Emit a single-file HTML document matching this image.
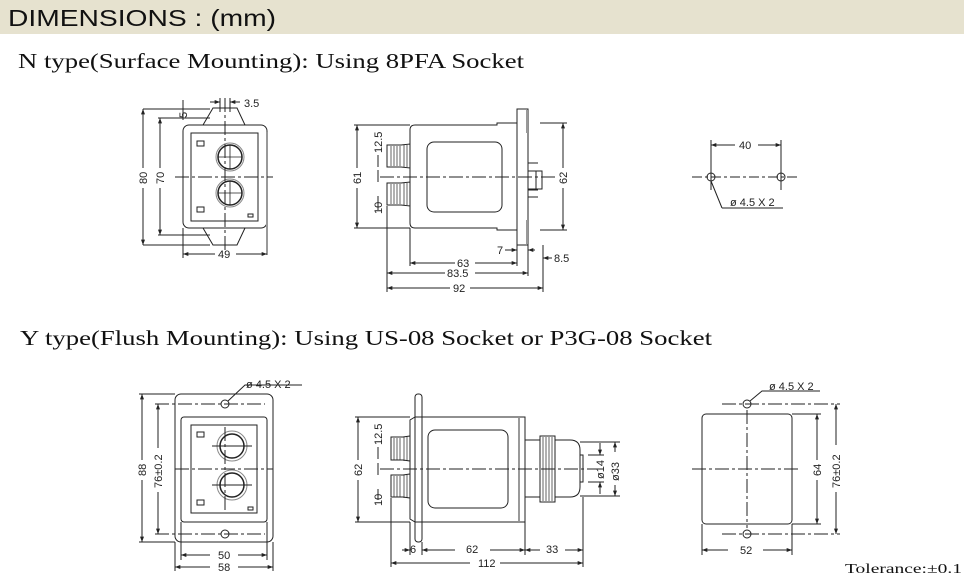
<!DOCTYPE html>
<html><head><meta charset="utf-8"><style>
html,body{margin:0;padding:0;background:#fff;}
svg{display:block;}
.t{font-family:"Liberation Sans",sans-serif;font-size:11px;fill:#222;}
.s{font-family:"Liberation Serif",serif;fill:#111;}
</style></head><body>
<svg width="964" height="579" viewBox="0 0 964 579" xmlns="http://www.w3.org/2000/svg">
<defs>
<marker id="a" viewBox="0 0 8 6" refX="8" refY="3" markerWidth="6" markerHeight="4" orient="auto-start-reverse"><path d="M0,0L8,3L0,6z" fill="#222"/></marker>
</defs>
<rect x="0" y="0" width="964" height="34" fill="#e6e2cf"/>
<text x="8" y="26" font-family="Liberation Sans Narrow,Liberation Sans,sans-serif" font-size="23" fill="#111" textLength="268" lengthAdjust="spacingAndGlyphs">DIMENSIONS : (mm)</text>
<text class="s" x="18" y="68" font-size="21" textLength="506" lengthAdjust="spacingAndGlyphs">N type(Surface Mounting): Using 8PFA Socket</text>
<text class="s" x="20" y="345" font-size="21" textLength="692" lengthAdjust="spacingAndGlyphs">Y type(Flush Mounting): Using US-08 Socket or P3G-08 Socket</text>
<text class="s" x="845" y="573" font-size="14" textLength="117" lengthAdjust="spacingAndGlyphs">Tolerance:±0.1</text>

<g stroke="#222" fill="none" stroke-width="1">
<!-- N front -->
<rect x="183" y="125" width="84" height="103" rx="6"/>
<rect x="191" y="133" width="67" height="88"/>
<line x1="267" y1="132" x2="267" y2="255" stroke="#999" stroke-width="2"/>
<circle cx="230" cy="157" r="14" stroke="#888"/><circle cx="230" cy="157" r="12" stroke-width="1.5"/>
<circle cx="230" cy="193" r="14" stroke="#888"/><circle cx="230" cy="193" r="12" stroke-width="1.5"/>
<path d="M218,157h24M218,193h24M230,145v24M230,181v24" stroke-width="0.8"/>
<rect x="197" y="141" width="7" height="5"/><rect x="197" y="207" width="7" height="5"/><rect x="248" y="214" width="5" height="3"/>
<path d="M203,125 L213,108 L237,108 L245,125 M203,228 L213,245 L237,245 L245,228"/>
<line x1="175" y1="177" x2="273" y2="177" stroke-dasharray="14,3,3,3"/>
<line x1="225" y1="98" x2="225" y2="250" stroke-dasharray="14,3,3,3"/>
<line x1="143" y1="109" x2="210" y2="109"/><line x1="143" y1="245" x2="210" y2="245"/>
<line x1="143" y1="109" x2="143" y2="168" marker-start="url(#a)"/><line x1="143" y1="188" x2="143" y2="245" marker-end="url(#a)"/>
<line x1="158" y1="118" x2="210" y2="118"/><line x1="158" y1="235" x2="210" y2="235"/>
<line x1="160" y1="118" x2="160" y2="168" marker-start="url(#a)"/><line x1="160" y1="188" x2="160" y2="235" marker-end="url(#a)"/>
<line x1="183" y1="228" x2="183" y2="258"/>
<line x1="183" y1="254" x2="215" y2="254" marker-start="url(#a)"/><line x1="236" y1="254" x2="267" y2="254" marker-end="url(#a)"/>
<line x1="183" y1="100" x2="183" y2="120"/><line x1="220" y1="98" x2="220" y2="112"/><line x1="230" y1="98" x2="230" y2="112"/>
<line x1="210" y1="102" x2="220" y2="102" marker-end="url(#a)"/><line x1="240" y1="102" x2="230" y2="102" marker-end="url(#a)"/>

<!-- N side -->
<path d="M410,130 Q410,125 415,125 L497,125 L497,123 L517,123 L517,230 L497,230 L497,228 L415,228 Q410,228 410,223 Z"/>
<rect x="427" y="142" width="75" height="70" rx="7"/>
<rect x="517" y="109" width="11" height="136"/>
<line x1="527" y1="110" x2="527" y2="133" stroke="#999" stroke-width="2"/><line x1="527" y1="220" x2="527" y2="244" stroke="#999" stroke-width="2"/>
<path d="M528,163 h10 M528,171 h14 v18 h-14 M536,171 v18 M528,190 h10 M528,197 h10"/>
<path d="M387,145 L401,145 L410,144 L410,168 L401,167 L387,167 Z M387,183 L401,183 L410,182 L410,206 L401,205 L387,205 Z"/>
<path d="M391,146v20M394,146v20M397,146v20M400,146v20M404,145v22M407,145v22M391,184v20M394,184v20M397,184v20M400,184v20M404,183v22M407,183v22" stroke-width="0.7"/>
<line x1="380" y1="177" x2="555" y2="177" stroke-dasharray="14,3,3,3"/>
<line x1="354" y1="125" x2="410" y2="125"/><line x1="354" y1="228" x2="410" y2="228"/>
<line x1="357" y1="125" x2="357" y2="168" marker-start="url(#a)"/><line x1="357" y1="188" x2="357" y2="228" marker-end="url(#a)"/>
<line x1="540" y1="123" x2="567" y2="123"/><line x1="540" y1="230" x2="567" y2="230"/>
<line x1="563" y1="123" x2="563" y2="168" marker-start="url(#a)"/><line x1="563" y1="188" x2="563" y2="230" marker-end="url(#a)"/>
<line x1="378" y1="155" x2="378" y2="167"/><line x1="378" y1="170" x2="378" y2="182"/><line x1="378" y1="196" x2="378" y2="210"/>
<line x1="410" y1="228" x2="410" y2="266"/><line x1="387" y1="206" x2="387" y2="292"/><line x1="528" y1="245" x2="528" y2="276"/><line x1="543" y1="245" x2="543" y2="292"/><line x1="517" y1="245" x2="517" y2="266"/>
<line x1="410" y1="263" x2="455" y2="263" marker-start="url(#a)"/><line x1="475" y1="263" x2="517" y2="263" marker-end="url(#a)"/>
<line x1="387" y1="273" x2="445" y2="273" marker-start="url(#a)"/><line x1="475" y1="273" x2="528" y2="273" marker-end="url(#a)"/>
<line x1="387" y1="288" x2="450" y2="288" marker-start="url(#a)"/><line x1="470" y1="288" x2="543" y2="288" marker-end="url(#a)"/>
<line x1="505" y1="250" x2="517" y2="250" marker-end="url(#a)"/><line x1="535" y1="250" x2="528" y2="250" marker-end="url(#a)"/>
<line x1="552" y1="258" x2="543" y2="258" marker-end="url(#a)"/>

<!-- N holes -->
<circle cx="711" cy="177" r="4"/><circle cx="781" cy="177" r="4"/>
<line x1="692" y1="177" x2="800" y2="177" stroke-dasharray="10,3,3,3"/>
<line x1="711" y1="140" x2="711" y2="190"/><line x1="781" y1="140" x2="781" y2="190"/>
<line x1="711" y1="145" x2="735" y2="145" marker-start="url(#a)"/><line x1="758" y1="145" x2="781" y2="145" marker-end="url(#a)"/>
<path d="M722,208 L711,181 M722,208 H783"/>

<!-- Y front -->
<rect x="175" y="394" width="98" height="148" rx="6"/>
<rect x="181" y="417" width="86" height="105" rx="3"/>
<rect x="191" y="425" width="66" height="88"/>
<circle cx="232" cy="446" r="15" stroke="#888"/><circle cx="232" cy="446" r="12" stroke-width="1.5"/>
<circle cx="232" cy="485" r="15" stroke="#888"/><circle cx="232" cy="485" r="12" stroke-width="1.5"/>
<rect x="197" y="432" width="7" height="5"/><rect x="197" y="500" width="7" height="5"/><rect x="248" y="507" width="5" height="3"/>
<circle cx="225" cy="404" r="4"/><circle cx="225" cy="534" r="4"/>
<line x1="175" y1="469" x2="273" y2="469" stroke-dasharray="14,3,3,3"/>
<line x1="155" y1="404" x2="265" y2="404" stroke-dasharray="14,3,3,3"/><line x1="155" y1="534" x2="265" y2="534" stroke-dasharray="14,3,3,3"/>
<line x1="225" y1="427" x2="225" y2="513" stroke-dasharray="14,3,3,3"/>
<line x1="212" y1="446" x2="252" y2="446"/><line x1="212" y1="485" x2="252" y2="485"/>
<line x1="139" y1="394" x2="175" y2="394"/><line x1="139" y1="542" x2="175" y2="542"/>
<line x1="142" y1="394" x2="142" y2="460" marker-start="url(#a)"/><line x1="142" y1="480" x2="142" y2="542" marker-end="url(#a)"/>
<line x1="158" y1="404" x2="158" y2="448" marker-start="url(#a)"/><line x1="158" y1="492" x2="158" y2="534" marker-end="url(#a)"/>
<line x1="181" y1="522" x2="181" y2="560"/><line x1="267" y1="522" x2="267" y2="560"/><line x1="175" y1="542" x2="175" y2="571"/><line x1="273" y1="542" x2="273" y2="571"/>
<line x1="181" y1="555" x2="210" y2="555" marker-start="url(#a)"/><line x1="238" y1="555" x2="267" y2="555" marker-end="url(#a)"/>
<line x1="175" y1="567" x2="210" y2="567" marker-start="url(#a)"/><line x1="238" y1="567" x2="273" y2="567" marker-end="url(#a)"/>
<path d="M228,401 L245,385 H302"/>

<!-- Y side -->
<path d="M410,420 L415,417 L525,417 L525,522 L415,522 L410,519 Z"/>
<rect x="415" y="394" width="7" height="148" rx="3"/>
<rect x="428" y="430" width="80" height="78" rx="7"/>
<line x1="519" y1="418" x2="519" y2="521" stroke="#999" stroke-width="2"/>
<rect x="525" y="440" width="15" height="57"/>
<rect x="540" y="436" width="15" height="66"/>
<path d="M543,437v64M546,437v64M549,437v64M552,437v64" stroke-width="0.7"/>
<path d="M555,440 H570 Q580,440 580,450 V487 Q580,497 570,497 H555"/>
<path d="M580,455 h3 v27 h-3"/>
<path d="M391,437 L403,437 L410,436 L410,461 L403,460 L391,460 Z M391,475 L403,475 L410,474 L410,498 L403,497 L391,497 Z"/>
<path d="M394,438v22M397,438v22M400,438v22M404,437v24M407,437v24M394,476v21M397,476v21M400,476v21M404,475v23M407,475v23" stroke-width="0.7"/>
<line x1="380" y1="469" x2="600" y2="469" stroke-dasharray="14,3,3,3"/>
<line x1="355" y1="417" x2="410" y2="417"/><line x1="355" y1="522" x2="410" y2="522"/>
<line x1="358" y1="417" x2="358" y2="460" marker-start="url(#a)"/><line x1="358" y1="480" x2="358" y2="522" marker-end="url(#a)"/>
<line x1="378" y1="447" x2="378" y2="459"/><line x1="378" y1="463" x2="378" y2="475"/><line x1="378" y1="489" x2="378" y2="500"/>
<line x1="580" y1="442" x2="620" y2="442"/><line x1="580" y1="496" x2="620" y2="496"/>
<line x1="588" y1="455" x2="604" y2="455"/><line x1="588" y1="482" x2="604" y2="482"/>
<line x1="615" y1="442" x2="615" y2="452" marker-start="url(#a)"/><line x1="615" y1="485" x2="615" y2="496" marker-end="url(#a)"/>
<line x1="600" y1="443" x2="600" y2="455" marker-end="url(#a)"/><line x1="600" y1="494" x2="600" y2="482" marker-end="url(#a)"/>
<line x1="410" y1="522" x2="410" y2="555"/><line x1="422" y1="542" x2="422" y2="555"/><line x1="525" y1="522" x2="525" y2="555"/><line x1="583" y1="497" x2="583" y2="567"/><line x1="391" y1="498" x2="391" y2="567"/>
<line x1="402" y1="550" x2="410" y2="550" marker-end="url(#a)"/>
<line x1="422" y1="550" x2="455" y2="550" marker-start="url(#a)"/><line x1="490" y1="550" x2="525" y2="550" marker-end="url(#a)"/>
<line x1="525" y1="550" x2="540" y2="550" marker-start="url(#a)"/><line x1="565" y1="550" x2="583" y2="550" marker-end="url(#a)"/>
<line x1="391" y1="563" x2="470" y2="563" marker-start="url(#a)"/><line x1="500" y1="563" x2="583" y2="563" marker-end="url(#a)"/>

<!-- Y cutout -->
<rect x="702" y="414" width="90" height="110" rx="4"/>
<circle cx="747" cy="404" r="4"/><circle cx="747" cy="534" r="4"/>
<line x1="722" y1="404" x2="840" y2="404" stroke-dasharray="14,3,3,3"/><line x1="722" y1="534" x2="840" y2="534" stroke-dasharray="14,3,3,3"/>
<line x1="692" y1="469" x2="800" y2="469" stroke-dasharray="14,3,3,3"/>
<line x1="747" y1="410" x2="747" y2="528" stroke-dasharray="14,3,3,3"/>
<line x1="792" y1="414" x2="821" y2="414"/><line x1="792" y1="524" x2="821" y2="524"/>
<line x1="817" y1="414" x2="817" y2="460" marker-start="url(#a)"/><line x1="817" y1="480" x2="817" y2="524" marker-end="url(#a)"/>
<line x1="836" y1="404" x2="836" y2="445" marker-start="url(#a)"/><line x1="836" y1="492" x2="836" y2="534" marker-end="url(#a)"/>
<line x1="702" y1="524" x2="702" y2="555"/><line x1="792" y1="524" x2="792" y2="555"/>
<line x1="702" y1="550" x2="728" y2="550" marker-start="url(#a)"/><line x1="763" y1="550" x2="792" y2="550" marker-end="url(#a)"/>
<path d="M750,401 L762,391 H820"/>
</g>

<g class="t">
<text x="244" y="107">3.5</text>
<text transform="translate(187,118) rotate(-90)">5</text>
<text transform="translate(147,184) rotate(-90)">80</text>
<text transform="translate(164,184) rotate(-90)">70</text>
<text x="218" y="258">49</text>
<text transform="translate(361,184) rotate(-90)">61</text>
<text transform="translate(567,184) rotate(-90)">62</text>
<text transform="translate(382,153) rotate(-90)">12.5</text>
<text transform="translate(382,214) rotate(-90)">10</text>
<text x="497" y="254">7</text>
<text x="457" y="267">63</text>
<text x="447" y="277">83.5</text>
<text x="453" y="292">92</text>
<text x="554" y="262">8.5</text>
<text x="739" y="149">40</text>
<text x="730" y="206">ø 4.5 X 2</text>
<text x="246" y="388">ø 4.5 X 2</text>
<text transform="translate(146,476) rotate(-90)">88</text>
<text transform="translate(162,488) rotate(-90)">76±0.2</text>
<text x="218" y="559">50</text>
<text x="218" y="571">58</text>
<text transform="translate(362,476) rotate(-90)">62</text>
<text transform="translate(382,445) rotate(-90)">12.5</text>
<text transform="translate(382,506) rotate(-90)">10</text>
<text transform="translate(604,479) rotate(-90)">ø14</text>
<text transform="translate(619,481) rotate(-90)">ø33</text>
<text x="410" y="553">6</text>
<text x="466" y="553">62</text>
<text x="546" y="553">33</text>
<text x="478" y="567">112</text>
<text x="769" y="390">ø 4.5 X 2</text>
<text transform="translate(821,476) rotate(-90)">64</text>
<text transform="translate(840,488) rotate(-90)">76±0.2</text>
<text x="740" y="554">52</text>
</g>
</svg>
</body></html>
